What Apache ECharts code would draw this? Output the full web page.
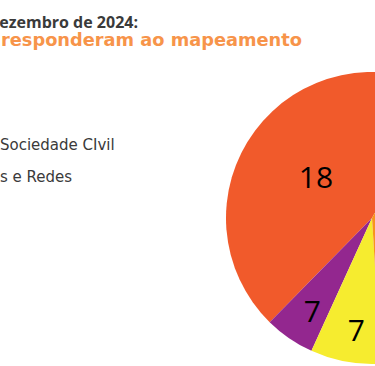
<!DOCTYPE html>
<html>
<head>
<meta charset="utf-8">
<script src="https://cdn.jsdelivr.net/npm/echarts@6/dist/echarts.min.js"></script>
<style>
  html, body { margin: 0; padding: 0; background: #ffffff; }
  #chart { width: 375px; height: 366px; }
</style>
</head>
<body>
<div id="chart"></div>
<script>
// ---- data ----
const sliceNames   = ['Vermelho', 'Roxo', 'Amarelo', 'Laranja'];
const sliceShares  = [164.5, 20, 28, 147.5];      // angular share of each slice as drawn
const sliceCounts  = ['18', '7', '7', ''];        // numbers printed on the slices
const sliceColors  = ['#F15A2B', '#93278F', '#F6EC2F', '#F7941D'];
const titleLines   = ['dezembro de 2024:', 'responderam ao mapeamento'];
const legendLabels = ['Sociedade CIvil', 's e Redes'];

const chart = echarts.init(document.getElementById('chart'), null, { renderer: 'svg' });

const baseData = sliceNames.map((n, i) => ({ name: n, value: sliceShares[i], itemStyle: { color: sliceColors[i] } }));
const center = [372, 218];
const startAngle = 61;

function labelData(show) {
  return sliceNames.map((n, i) => ({
    name: n,
    value: sliceShares[i],
    itemStyle: { color: 'rgba(0,0,0,0)' },
    label: { show: show[i] && sliceCounts[i] !== '' }
  }));
}

const labelStyle = {
  position: 'inside',
  formatter: p => sliceCounts[p.dataIndex],
  color: '#000000',
  fontFamily: 'Open Sans',
  fontSize: 30,
  fontWeight: 500
};

chart.setOption({
  animation: false,
  graphic: [
    { type: 'text', x: 138, y: 22, style: { text: titleLines[0], align: 'right', verticalAlign: 'middle', fill: '#3A3A3A', font: 'bold 16px "Open Sans"' } },
    { type: 'text', x: 1, y: 39.2, style: { text: titleLines[1], align: 'left', verticalAlign: 'middle', fill: '#F7944A', font: 'bold 17.8px "DejaVu Sans"' } },
    { type: 'text', x: 0, y: 145.4, style: { text: legendLabels[0], align: 'left', verticalAlign: 'middle', fill: '#3A3A3A', font: '15px "DejaVu Sans"' } },
    { type: 'text', x: 0, y: 177.4, style: { text: legendLabels[1], align: 'left', verticalAlign: 'middle', fill: '#3A3A3A', font: '15px "DejaVu Sans"' } }
  ],
  series: [
    {
      type: 'pie', silent: true, center: center, radius: [0, 146],
      startAngle: startAngle, clockwise: false,
      label: { show: false }, labelLine: { show: false },
      itemStyle: { borderWidth: 0 },
      emphasis: { disabled: true },
      data: baseData
    },
    {
      type: 'pie', silent: true, center: center, radius: [0, 134],
      startAngle: startAngle, clockwise: false,
      label: labelStyle, labelLine: { show: false },
      emphasis: { disabled: true },
      data: labelData([true, false, false, false])
    },
    {
      type: 'pie', silent: true, center: center, radius: [76, 146],
      startAngle: startAngle, clockwise: false,
      label: labelStyle, labelLine: { show: false },
      labelLayout: { dx: 5, dy: -1 },
      emphasis: { disabled: true },
      data: labelData([false, true, true, false])
    }
  ]
});
</script>
</body>
</html>
